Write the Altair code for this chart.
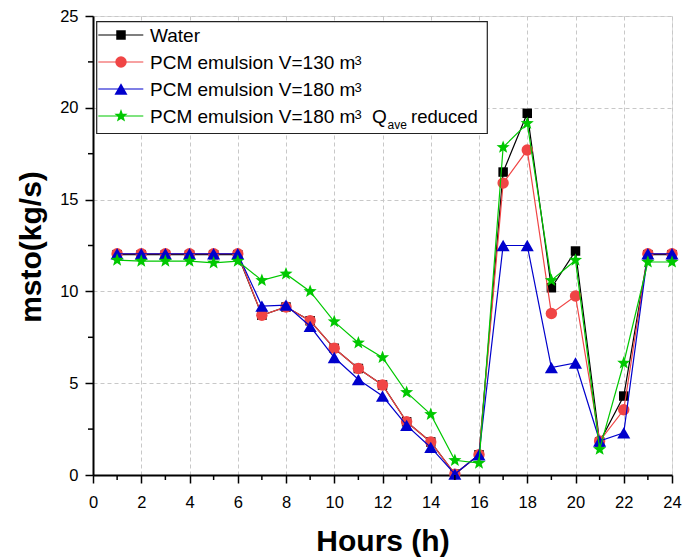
import altair as alt
import pandas as pd

# ---------------- data ----------------
hours = list(range(1, 25))
series_names = [
    "Water",
    "PCM emulsion V=130 m3",
    "PCM emulsion V=180 m3",
    "PCM emulsion V=180 m3 Qave reduced",
]
water = [12.0, 12.0, 12.0, 12.0, 12.0, 12.0, 8.7, 9.15, 8.4, 6.9, 5.8, 4.9,
         2.9, 1.8, 0.05, 1.1, 16.5, 19.7, 10.2, 12.2, 1.8, 4.3, 12.0, 12.0]
pcm130 = [12.05, 12.05, 12.05, 12.05, 12.05, 12.05, 8.7, 9.15, 8.4, 6.9, 5.8, 4.9,
          2.9, 1.8, 0.05, 1.1, 15.9, 17.7, 8.8, 9.75, 1.85, 3.55, 12.05, 12.05]
pcm180 = [12.05, 12.05, 12.05, 12.05, 12.05, 12.05, 9.2, 9.25, 8.1, 6.4, 5.2, 4.3,
          2.7, 1.5, 0.05, 1.1, 12.5, 12.5, 5.85, 6.1, 1.85, 2.3, 12.05, 12.05]
pcm180q = [11.7, 11.65, 11.65, 11.65, 11.55, 11.65, 10.6, 10.95, 10.0, 8.35, 7.2, 6.4,
           4.5, 3.3, 0.8, 0.65, 17.85, 19.15, 10.6, 11.7, 1.4, 6.1, 11.6, 11.6]
x_major = list(range(0, 25, 2))
x_minor = list(range(1, 24, 2))
y_major = [0, 5, 10, 15, 20, 25]
y_minor = [2.5, 7.5, 12.5, 17.5, 22.5]

values = [water, pcm130, pcm180, pcm180q]
colors = ["#000000", "#F04545", "#0000CC", "#00C800"]
STAR = ("M0,-1L0.247,-0.34L0.951,-0.309L0.399,0.13L0.588,0.809L0,0.42"
        "L-0.588,0.809L-0.399,0.13L-0.951,-0.309L-0.247,-0.34Z")
shapes = ["square", "circle", "triangle-up", STAR]
sizes = [90, 130, 170, 190]

rows = []
for name, vals in zip(series_names, values):
    for h, v in zip(hours, vals):
        rows.append({"series": name, "hour": h, "value": v})
df = pd.DataFrame(rows)

FONT = "Liberation Sans"
W, H = 579, 459

xscale = alt.Scale(domain=[0, 24], nice=False, zero=False)
yscale = alt.Scale(domain=[0, 25], nice=False, zero=False)

xaxis = alt.Axis(values=x_major, format="d", tickSize=8, tickWidth=1.5, tickColor="black",
                 domainColor="black", domainWidth=2, labelFont=FONT, labelFontSize=16.5,
                 labelColor="black", labelBaseline="alphabetic", labelPadding=24,
                 labelFlush=False, labelOverlap=False,
                 grid=True, gridDash=[4, 3], gridColor="#c8c8c8", gridWidth=1,
                 title="Hours (h)", titleFont=FONT, titleFontSize=30, titleFontWeight="bold",
                 titleColor="black", titleBaseline="alphabetic", titleAlign="center",
                 titleX=W / 2, titleY=75.5, orient="bottom")
yaxis = alt.Axis(values=y_major, format="d", tickSize=8, tickWidth=1.5, tickColor="black",
                 domainColor="black", domainWidth=2, labelFont=FONT, labelFontSize=16.5,
                 labelColor="black", labelPadding=7, labelFlush=False, labelOverlap=False,
                 grid=True, gridDash=[4, 3], gridColor="#c8c8c8", gridWidth=1,
                 title="msto(kg/s)", titleFont=FONT, titleFontSize=30, titleFontWeight="bold",
                 titleColor="black", titleBaseline="alphabetic", titleAlign="center",
                 titleAngle=270, titleX=-52.5, titleY=230.5, orient="left")

layers = []
for name, col, shp, sz in zip(series_names, colors, shapes, sizes):
    base = alt.Chart(df).transform_filter(alt.datum.series == name).encode(
        x=alt.X("hour:Q", scale=xscale, axis=xaxis),
        y=alt.Y("value:Q", scale=yscale, axis=yaxis),
    )
    layers.append(base.mark_line(color=col, strokeWidth=1.2))
    layers.append(base.mark_point(filled=True, opacity=1, color=col, shape=shp, size=sz))

# minor ticks placed through the shared scales
xm = pd.DataFrame({"hour": x_minor})
ym = pd.DataFrame({"value": y_minor})
minor_x = alt.Chart(xm).mark_rule(color="black", strokeWidth=1.5).encode(
    x=alt.X("hour:Q", scale=xscale, axis=xaxis), y=alt.value(H), y2=alt.value(H + 5))
minor_y = alt.Chart(ym).mark_rule(color="black", strokeWidth=1.5).encode(
    y=alt.Y("value:Q", scale=yscale, axis=yaxis), x=alt.value(0), x2=alt.value(-5))

# ---------------- legend (drawn by hand to allow super/subscripts) ----------------
one = pd.DataFrame({"k": [0]})
leg = []
leg.append(alt.Chart(one).mark_rect(fill="white", stroke="#222222", strokeWidth=1.2).encode(
    x=alt.value(3.7), x2=alt.value(394.3), y=alt.value(5.7), y2=alt.value(117.5)))
row_y = [19, 46, 73, 100]
labels_main = ["Water", "PCM emulsion V=130 m", "PCM emulsion V=180 m", "PCM emulsion V=180 m"]
for i, (ry, col, shp, sz, lab) in enumerate(zip(row_y, colors, shapes, sizes, labels_main)):
    leg.append(alt.Chart(one).mark_rule(color=col, strokeWidth=1.2).encode(
        x=alt.value(5.3), x2=alt.value(50.3), y=alt.value(ry)))
    leg.append(alt.Chart(one).mark_point(filled=True, opacity=1, color=col, shape=shp, size=sz).encode(
        x=alt.value(28), y=alt.value(ry)))
    leg.append(alt.Chart(one).mark_text(text=lab, font=FONT, fontSize=19, align="left",
                                        baseline="alphabetic", color="black").encode(
        x=alt.value(57), y=alt.value(ry + 6.8)))
    if i > 0:
        leg.append(alt.Chart(one).mark_text(text="3", font=FONT, fontSize=13, align="left",
                                            baseline="alphabetic", color="black").encode(
            x=alt.value(261.5), y=alt.value(ry + 3)))
leg.append(alt.Chart(one).mark_text(text="Q", font=FONT, fontSize=19, align="left",
                                    baseline="alphabetic", color="black").encode(
    x=alt.value(279), y=alt.value(row_y[3] + 6.8)))
leg.append(alt.Chart(one).mark_text(text="ave", font=FONT, fontSize=12, align="left",
                                    baseline="alphabetic", color="black").encode(
    x=alt.value(294.5), y=alt.value(row_y[3] + 12.5)))
leg.append(alt.Chart(one).mark_text(text="reduced", font=FONT, fontSize=18.5, align="left",
                                    baseline="alphabetic", color="black").encode(
    x=alt.value(318), y=alt.value(row_y[3] + 6.8)))

chart = alt.layer(*layers, minor_x, minor_y, *leg).properties(
    width=W, height=H,
    autosize=alt.AutoSizeParams(type="none"),
    padding={"left": 85, "top": 8, "right": 10, "bottom": 82},
).configure_view(stroke="black", strokeWidth=2).configure(background="white")

chart.save("out.html", embed_options={"renderer": "svg", "actions": False})
